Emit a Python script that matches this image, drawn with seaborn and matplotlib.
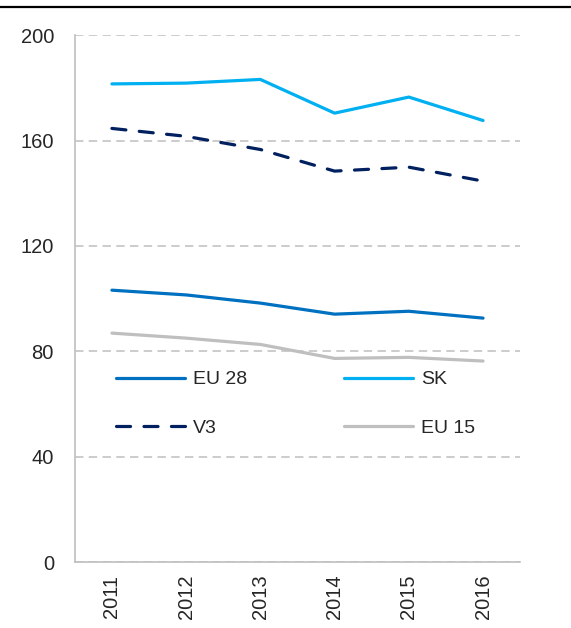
import seaborn as sns
import matplotlib.pyplot as plt
import matplotlib.lines as mlines
from matplotlib.ticker import FixedLocator

sns.set_style("white")
plt.rcParams['font.family'] = ['Liberation Sans', 'DejaVu Sans']

years = ['2011', '2012', '2013', '2014', '2015', '2016']
eu28 = [103.2, 101.4, 98.3, 94.1, 95.2, 92.6]
sk = [181.5, 181.8, 183.2, 170.4, 176.5, 167.6]
v3 = [164.6, 161.6, 156.6, 148.4, 149.9, 144.6]
eu15 = [86.9, 85.0, 82.6, 77.3, 77.7, 76.3]

fig = plt.figure(figsize=(5.71, 6.28), dpi=100)
ax = fig.add_axes([0.131, 0.105, 0.78, 0.839])

x = list(range(len(years)))
lw = 2.3
sns.lineplot(x=x, y=eu28, ax=ax, color='#0070C0', lw=lw, label='EU 28')
sns.lineplot(x=x, y=sk, ax=ax, color='#00B0F0', lw=lw, label='SK')
sns.lineplot(x=x, y=v3, ax=ax, color='#002060', lw=lw, label='V3',
             dashes=False, linestyle=(0, (4.4, 4.2)), dash_capstyle='round')
sns.lineplot(x=x, y=eu15, ax=ax, color='#BFBFBF', lw=lw, label='EU 15')

ax.set_xlim(-0.5, 5.5)
ax.set_ylim(0, 200)
ax.set_yticks([0, 40, 80, 120, 160, 200])
ax.set_xticks(x)
ax.set_xticklabels(years, rotation=90)
ax.xaxis.set_minor_locator(FixedLocator([i - 0.5 for i in range(len(years) + 1)]))
ax.tick_params(axis='x', which='major', length=0, pad=9, labelsize=14.5)
ax.tick_params(axis='x', which='minor', length=6, width=1.2, color='#BFBFBF', direction='out')
ax.tick_params(axis='y', length=0, pad=15, labelsize=14.5)

ax.grid(False)
ax.yaxis.grid(True, color='#BFBFBF', linestyle=(0, (5.5, 3.5)), linewidth=1.1)
ax.set_axisbelow(True)
for s in ['top', 'right']:
    ax.spines[s].set_visible(False)
for s in ['left', 'bottom']:
    ax.spines[s].set_color('#BFBFBF')
    ax.spines[s].set_linewidth(1.2)

handles, labels = ax.get_legend_handles_labels()
order = [0, 2, 1, 3]  # column-major fill so rows read EU 28, SK / V3, EU 15
ax.legend([handles[i] for i in order], [labels[i] for i in order],
          ncol=2, loc='upper left', bbox_to_anchor=(0.093, 0.363), frameon=False,
          fontsize=14, handlelength=3.55, handletextpad=0.4, columnspacing=5.0,
          labelspacing=1.6, borderpad=0, borderaxespad=0)

fig.add_artist(mlines.Line2D([0, 1], [0.989, 0.989], color='black', lw=1.6,
                             transform=fig.transFigure))

fig.savefig('out.png', dpi=100)
